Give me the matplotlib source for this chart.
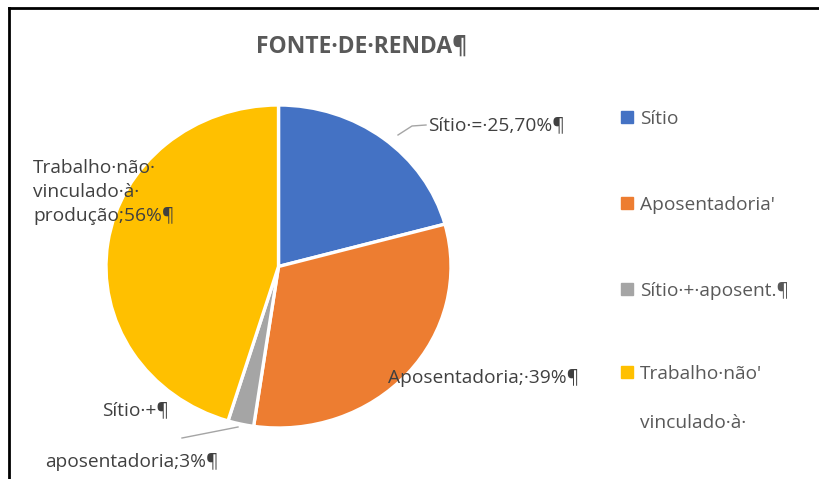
import matplotlib
matplotlib.use("Agg")
import matplotlib.pyplot as plt
from matplotlib.lines import Line2D
import numpy as np

categories = ["Sítio", "Aposentadoria", "Sítio + aposent.", "Trabalho não vinculado à produção"]
values = [25.70, 39, 3, 56]
colors = ["#4472C4", "#ED7D31", "#A5A5A5", "#FFC000"]
title = "FONTE·DE·RENDA¶"
legend_labels = ["Sítio", "Aposentadoria'", "Sítio·+·aposent.¶", "Trabalho·não'"]
legend_extra = "vinculado·à·"

W, H = 820, 479
fig = plt.figure(figsize=(W / 100, H / 100), dpi=100)
plt.rcParams['font.family'] = ['Open Sans', 'DejaVu Sans']

def fx(x):
    return x / W

def fy(y):
    return 1 - y / H

# pie axes: centre (278.5,266.5), radii 172.5 x 161.5 px (slightly squashed as in reference)
cx, cy, rx, ry = 278.5, 266.5, 172.5, 161.5
ax = fig.add_axes([fx(cx - rx), fy(cy + ry), 2 * rx / W, 2 * ry / H])
ax.pie(values, colors=colors, startangle=90, counterclock=False, radius=1.0,
       wedgeprops=dict(edgecolor="white", linewidth=2.4))
ax.set_xlim(-1, 1)
ax.set_ylim(-1, 1)
ax.set_aspect("auto")
ax.axis("off")

txtc = "#404040"
fs = 13.8

# title
fig.text(fx(362), fy(47), title, ha="center", va="center", fontsize=16.5,
         fontweight="bold", color="#595959")

# data labels
fig.text(fx(428), fy(125), "Sítio·=·{:.2f}%¶".format(values[0]).replace(".", ","),
         ha="left", va="center", fontsize=fs, color=txtc)
for i, line in enumerate(["Trabalho·não·", "vinculado·à·",
                          "produção;{:d}%¶".format(int(values[3]))]):
    fig.text(fx(33), fy(168 + 24 * i), line, ha="left", va="center", fontsize=fs, color=txtc)
fig.text(fx(388), fy(378), "Aposentadoria;·{:d}%¶".format(int(values[1])),
         ha="left", va="center", fontsize=fs, color=txtc)
fig.text(fx(102), fy(410), "Sítio·+¶", ha="left", va="center", fontsize=fs, color=txtc)
fig.text(fx(45), fy(462), "aposentadoria;{:d}%¶".format(int(values[2])),
         ha="left", va="center", fontsize=fs, color=txtc)

# leader lines
fig.add_artist(Line2D([fx(398), fx(412), fx(426)], [fy(135), fy(126), fy(125)],
                      color="#A5A5A5", lw=1.0))
fig.add_artist(Line2D([fx(238), fx(182)], [fy(427), fy(438)], color="#A5A5A5", lw=1.0))

# legend
leg_y = [117, 203, 289, 372]
for col, lab, y in zip(colors, legend_labels, leg_y):
    fig.add_artist(plt.Rectangle((fx(621), fy(y + 6)), 12.5 / W, 12 / H, color=col,
                                 transform=fig.transFigure))
    fig.text(fx(640), fy(y + 2), lab, ha="left", va="center", fontsize=fs, color="#595959")
fig.text(fx(640), fy(423), legend_extra, ha="left", va="center", fontsize=fs, color="#595959")

# frame lines
fig.add_artist(Line2D([fx(9), fx(9)], [fy(8), 0], color="black", lw=2.0))
fig.add_artist(Line2D([fx(9), 1], [fy(8), fy(8)], color="black", lw=2.0))

fig.savefig("out.png", dpi=100)
